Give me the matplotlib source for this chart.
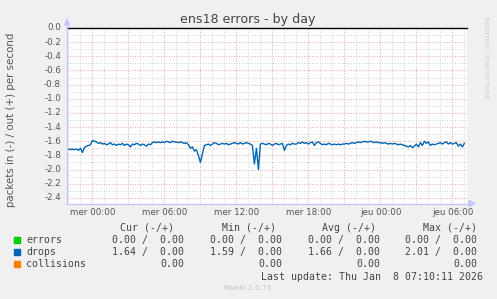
import numpy as np
import matplotlib
matplotlib.use('Agg')
import matplotlib.pyplot as plt

#%% data (hours relative to mer 00:00, 10-minute samples)
W, H = 497, 299
start_hour = -2.0
step_hour = 1.0 / 6.0
drops_in = [
    -1.71, -1.72, -1.71, -1.72, -1.71, -1.73,
    -1.70, -1.76, -1.69, -1.67, -1.66, -1.65,
    -1.59, -1.60, -1.61, -1.63, -1.62, -1.64,
    -1.63, -1.65, -1.64, -1.62, -1.65, -1.64,
    -1.66, -1.64, -1.65, -1.63, -1.66, -1.64,
    -1.65, -1.68, -1.64, -1.65, -1.63, -1.64,
    -1.66, -1.64, -1.65, -1.67, -1.64, -1.65,
    -1.62, -1.61, -1.62, -1.61, -1.62, -1.61,
    -1.62, -1.60, -1.61, -1.62, -1.60, -1.61,
    -1.61, -1.62, -1.61, -1.62, -1.63, -1.62,
    -1.65, -1.70, -1.68, -1.74, -1.72, -1.80,
    -1.90, -1.78, -1.66, -1.65, -1.64, -1.66,
    -1.64, -1.62, -1.63, -1.65, -1.64, -1.63,
    -1.64, -1.63, -1.65, -1.64, -1.63, -1.62,
    -1.63, -1.64, -1.62, -1.64, -1.63, -1.62,
    -1.63, -1.64, -1.66, -1.92, -1.70, -2.00,
    -1.64, -1.63, -1.64, -1.65, -1.63, -1.64,
    -1.66, -1.64, -1.63, -1.65, -1.64, -1.63,
    -1.73, -1.66, -1.64, -1.65, -1.63, -1.64,
    -1.64, -1.62, -1.63, -1.61, -1.63, -1.62,
    -1.64, -1.62, -1.61, -1.66, -1.62, -1.61,
    -1.63, -1.65, -1.64, -1.65, -1.63, -1.64,
    -1.65, -1.64, -1.65, -1.64, -1.65, -1.64,
    -1.64, -1.63, -1.64, -1.63, -1.62, -1.63,
    -1.62, -1.61, -1.62, -1.61, -1.60, -1.61,
    -1.61, -1.60, -1.61, -1.62, -1.61, -1.62,
    -1.62, -1.63, -1.62, -1.63, -1.64, -1.63,
    -1.64, -1.63, -1.64, -1.65, -1.64, -1.65,
    -1.66, -1.67, -1.68, -1.66, -1.69, -1.67,
    -1.64, -1.68, -1.62, -1.66, -1.60, -1.63,
    -1.61, -1.66, -1.64, -1.65, -1.64, -1.63,
    -1.62, -1.64, -1.62, -1.61, -1.64, -1.62,
    -1.64, -1.63, -1.62, -1.67, -1.64, -1.68,
    -1.63,
]
xtick_hours = [0, 6, 12, 18, 24, 30]
xtick_labels = ['mer 00:00', 'mer 06:00', 'mer 12:00', 'mer 18:00', 'jeu 00:00', 'jeu 06:00']
ytick_values = [0.0, -0.2, -0.4, -0.6, -0.8, -1.0, -1.2, -1.4, -1.6, -1.8, -2.0, -2.2, -2.4]

legend_names = ['errors', 'drops', 'collisions']
legend_colors = ['#00CC00', '#0066B3', '#FF8000']
legend_cur = ['0.00 /  0.00', '1.64 /  0.00', '0.00']
legend_min = ['0.00 /  0.00', '1.59 /  0.00', '0.00']
legend_avg = ['0.00 /  0.00', '1.66 /  0.00', '0.00']
legend_max = ['0.00 /  0.00', '2.01 /  0.00', '0.00']

#%% figure
bg = '#F0F0F0'
fig = plt.figure(figsize=(W / 100, H / 100), dpi=100, facecolor=bg)

def fx(px):
    return px / W

def fy(py):
    return 1 - py / H

ax_l, ax_r, ax_t, ax_b = 67, 467, 28, 203.5
ax = fig.add_axes([fx(ax_l), fy(ax_b), fx(ax_r - ax_l), (ax_b - ax_t) / H])
ax.set_facecolor('white')
xmin, xmax = -2.12, 31.22
ymin, ymax = -2.48, 0.0
ax.set_xlim(xmin, xmax)
ax.set_ylim(ymin, ymax)
for s in ax.spines.values():
    s.set_visible(False)
ax.set_xticks([])
ax.set_yticks([])

# grid: grey minor, red major
minor_c = '#D4D4D4'
major_c = '#EEAAAA'
dash = (0, (1, 1.6))
for h in range(-2, 32):
    c = major_c if h % 3 == 0 else minor_c
    ax.axvline(h, color=c, lw=0.72, ls=dash, zorder=1)
for k in range(1, 25):
    c = major_c if k % 2 == 0 else minor_c
    ax.axhline(-0.1 * k, color=c, lw=0.72, ls=dash, zorder=1)

hours = start_hour + step_hour * np.arange(len(drops_in))
ax.plot(hours, drops_in, color=legend_colors[1], lw=1.0, zorder=3)
ax.axhline(0.0, color='black', lw=1.0, zorder=4, clip_on=False)

# axis arrows
axis_c = '#C8C8FF'
fig.add_artist(plt.Line2D([fx(ax_l), fx(ax_l)], [fy(ax_b), fy(24)], color=axis_c, lw=1.0))
fig.add_artist(plt.Line2D([fx(ax_l), fx(470)], [fy(ax_b), fy(ax_b)], color=axis_c, lw=1.0))
fig.add_artist(plt.Polygon([[fx(64.5), fy(25)], [fx(69.5), fy(25)], [fx(67), fy(19)]], color=axis_c))
fig.add_artist(plt.Polygon([[fx(469), fy(ax_b - 3)], [fx(469), fy(ax_b + 3)], [fx(475), fy(ax_b)]], color=axis_c))

tick_c = '#555555'
for v in ytick_values:
    py = ax_t + (ymax - v) / (ymax - ymin) * (ax_b - ax_t)
    fig.text(fx(61), fy(py), '%.1f' % v, ha='right', va='center', fontsize=6.3, color=tick_c)
for h, lab in zip(xtick_hours, xtick_labels):
    px = ax_l + (h - xmin) / (xmax - xmin) * (ax_r - ax_l)
    fig.text(fx(px), fy(212.5), lab, ha='center', va='center', fontsize=6.3, color=tick_c)

fig.text(fx(248), fy(19), 'ens18 errors - by day', ha='center', va='center', fontsize=9.1, color='#444444')
fig.text(fx(11.5), fy(120), 'packets in (-) / out (+) per second', rotation=90,
         ha='center', va='center', fontsize=7.4, color=tick_c)
fig.text(fx(486), fy(58), 'RRDTOOL / TOBI OETIKER', rotation=270,
         ha='center', va='center', fontsize=4.6, color='#C8C8C8')

#%% legend
mono = 'DejaVu Sans Mono'
lc = '#444444'
fs = 7.1
headers = ['Cur (-/+)', 'Min (-/+)', 'Avg (-/+)', 'Max (-/+)']
header_right = [174, 276, 376, 477]
col_right = [184, 282, 380, 477]
for hdr, xr in zip(headers, header_right):
    fig.text(fx(xr), fy(228), hdr, ha='right', va='center', family=mono, fontsize=fs, color=lc)
rows_y = [240, 252, 264]
for i, name in enumerate(legend_names):
    y = rows_y[i]
    fig.add_artist(plt.Rectangle((fx(14), fy(y + 2.8)), fx(5.5), 5.5 / H, color=legend_colors[i]))
    fig.text(fx(26), fy(y), name, ha='left', va='center', family=mono, fontsize=fs, color=lc)
    for vals, xr in zip([legend_cur, legend_min, legend_avg, legend_max], col_right):
        fig.text(fx(xr), fy(y), vals[i], ha='right', va='center', family=mono, fontsize=fs, color=lc)
fig.text(fx(483), fy(276.5), 'Last update: Thu Jan  8 07:10:11 2026', ha='right', va='center',
         family=mono, fontsize=fs, color=lc)
fig.text(fx(248), fy(288), 'Munin 2.0.73', ha='center', va='center', fontsize=5.2, color='#C0C0C0')

fig.savefig('out.png', dpi=100, facecolor=bg)
